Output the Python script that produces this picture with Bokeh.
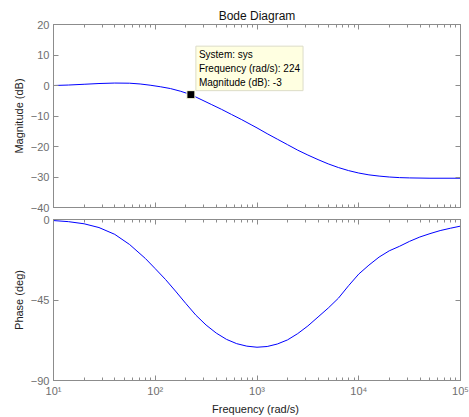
from bokeh.plotting import figure
from bokeh.models import (LinearAxis, LogAxis, FixedTicker, Label, Range1d,
                          CustomJSTickFormatter)
from bokeh.layouts import column
from bokeh.embed import file_html
from bokeh.resources import INLINE

# ---- data ----
mag_freq = [10, 14, 20, 28, 40, 56, 71, 89, 112, 141, 178, 224, 282, 355, 447,
            562, 708, 891, 1000, 1259, 1585, 1995, 2512, 3162, 3981, 5012,
            6310, 7943, 10000, 12589, 15849, 19953, 25119, 31623, 50119, 100000]
mag_db = [0.0, 0.15, 0.4, 0.65, 0.8, 0.75, 0.5, 0.1, -0.4, -1.0, -1.9, -3.0,
          -4.6, -6.2, -7.8, -9.5, -11.2, -13.0, -13.9, -15.8, -17.6, -19.4,
          -21.2, -22.8, -24.3, -25.7, -26.9, -27.9, -28.7, -29.3, -29.7, -30.0,
          -30.2, -30.3, -30.4, -30.4]

ph_freq = [10, 14, 20, 28, 40, 56, 80, 100, 126, 158, 200, 251, 316, 398, 501,
           631, 794, 1000, 1259, 1585, 1995, 2512, 3162, 3981, 5012, 6310,
           7943, 10000, 12589, 15849, 19953, 25119, 31623, 39811, 50119, 63096,
           79433, 100000]
ph_deg = [-0.6, -1.2, -2.4, -4.5, -8.3, -14.0, -21.8, -27.5, -33.5, -40.0,
          -47.0, -53.5, -59.0, -63.5, -67.0, -69.4, -70.8, -71.4, -71.0, -69.6,
          -67.3, -63.8, -59.5, -54.5, -49.5, -44.0, -37.0, -30.5, -25.5, -21.0,
          -17.5, -15.0, -12.2, -9.8, -7.9, -6.2, -4.9, -3.7]

x_ticks = [10, 100, 1000, 10000, 100000]
x_tick_labels = ["10\u00b9", "10\u00b2", "10\u00b3", "10\u2074", "10\u2075"]
mag_ticks = [20, 10, 0, -10, -20, -30, -40]
ph_ticks = [0, -45, -90]

tip_freq = 224
tip_mag = -3
tip_system = "sys"

# ---- styling ----
GREY = "#8c8c8c"
LABEL_GREY = "#6e6e6e"
FONT = "Liberation Sans"
BLUE = "#0000ff"

minor = [m * 10 ** d for d in range(1, 5) for m in range(2, 10)]


def xfmt():
    return CustomJSTickFormatter(args=dict(xt=x_ticks, xl=x_tick_labels), code="""
        const i = xt.findIndex(t => Math.abs(Math.log10(t) - Math.log10(tick)) < 1e-6);
        return i >= 0 ? xl[i] : "";
    """)


def blank():
    return CustomJSTickFormatter(code="return '';")


def style(ax, show_labels, is_x):
    ax.axis_line_color = GREY
    ax.major_tick_line_color = GREY
    ax.minor_tick_line_color = GREY
    ax.major_tick_in = 5
    ax.major_tick_out = 0
    ax.minor_tick_in = 3 if is_x else 0
    ax.minor_tick_out = 0
    ax.major_label_text_color = LABEL_GREY
    ax.major_label_text_font = FONT
    ax.major_label_text_font_size = "11px"
    ax.axis_label_text_font = FONT
    ax.axis_label_text_font_size = "11px"
    ax.axis_label_text_font_style = "normal"
    ax.axis_label_text_color = "#222222"
    ax.major_label_standoff = 4
    ax.axis_label_standoff = 3
    if not show_labels:
        ax.formatter = blank()
        ax.major_label_text_font_size = "1px"
        ax.major_label_text_alpha = 0
        ax.major_label_standoff = 0


def make(yr, yticks, ylabel, height, top, bottom, xlabel_on, title=None):
    p = figure(x_axis_type="log", x_range=Range1d(10, 100000), y_range=yr,
               frame_width=407, frame_height=height,
               min_border_left=53, min_border_right=9,
               min_border_top=top, min_border_bottom=bottom,
               output_backend="svg", toolbar_location=None,
               title=title)
    p.grid.visible = False
    p.outline_line_color = GREY
    p.background_fill_color = "white"
    p.border_fill_color = "white"
    xt = FixedTicker(ticks=x_ticks, minor_ticks=minor)
    yt = FixedTicker(ticks=yticks)
    bx = p.xaxis[0]
    bx.ticker = xt
    bx.formatter = xfmt()
    style(bx, xlabel_on, True)
    ly = p.yaxis[0]
    ly.ticker = yt
    ly.axis_label = ylabel
    style(ly, True, False)
    ax_top = LogAxis(ticker=xt)
    style(ax_top, False, True)
    p.add_layout(ax_top, "above")
    ry = LinearAxis(ticker=yt)
    style(ry, False, False)
    p.add_layout(ry, "right")
    return p, bx


p1, _ = make(Range1d(-40, 20), mag_ticks, "Magnitude (dB)", 183, 24, 6, False,
             title="Bode Diagram")
p1.title.align = "center"
p1.title.text_font = FONT
p1.title.text_font_size = "12px"
p1.title.text_font_style = "normal"
p1.title.text_color = "#111111"
p1.title.standoff = 4
p1.line(mag_freq, mag_db, line_color=BLUE, line_width=1)
p1.scatter([tip_freq], [tip_mag], marker="square", size=8, fill_color="black",
           line_color="#ffffe1", line_width=1)
tip_text = f"System: {tip_system}\nFrequency (rad/s): {tip_freq}\nMagnitude (dB): {tip_mag}"
p1.add_layout(Label(x=tip_freq, y=tip_mag, x_offset=5, y_offset=4,
                    text=tip_text, text_font=FONT, text_font_size="10px",
                    text_color="black", text_align="left", text_baseline="bottom",
                    text_line_height=1.25,
                    background_fill_color="#ffffe1",
                    border_line_color="#dcdcc8", padding=3))

p2, bx2 = make(Range1d(-90, 0), ph_ticks, "Phase (deg)", 161, 6, 37, True)
bx2.axis_label = "Frequency  (rad/s)"
bx2.axis_label_standoff = 3
p2.line(ph_freq, ph_deg, line_color=BLUE, line_width=1)

lay = column(p1, p2, spacing=0)
open("out.html", "w").write(file_html(lay, INLINE))
